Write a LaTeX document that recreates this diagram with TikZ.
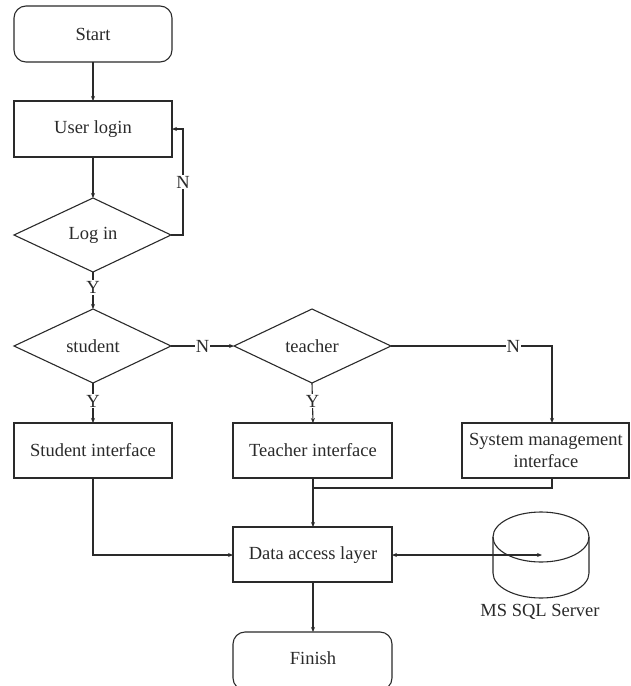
\documentclass[tikz,border=0pt]{standalone}
\usepackage{fontspec}
\setmainfont{Liberation Serif}
\usetikzlibrary{arrows.meta}
\definecolor{ln}{HTML}{2A2A2A}
\begin{document}
\begin{tikzpicture}[x=1pt,y=-1pt,
  every node/.style={font=\fontsize{18.5}{21}\selectfont, text=ln},
  line/.style={draw=ln, line width=1.1pt},
  arr/.style={line, -{Stealth[length=5pt,width=4pt]}},
  dbl/.style={line, {Stealth[length=5pt,width=4pt]}-{Stealth[length=5pt,width=4pt]}},
  lbl/.style={fill=white, inner sep=1pt},
]
\useasboundingbox (0,0) rectangle (630,686);
% nodes drawn as shapes with named coordinates
\draw[line, rounded corners=12pt] (14,6) rectangle (172,62);
\node (start) at (93,34) {Start};
\coordinate (startS) at (93,62);

\draw[line] (14,101) rectangle (172,157);
\node (login) at (93,129) {User login};
\coordinate (loginS) at (93,157);
\coordinate (loginN) at (93,101);
\coordinate (loginE) at (172,129);

\draw[line] (93,198) -- (171,235) -- (93,272) -- (14,235) -- cycle;
\node (logd) at (93,235) {Log in};
\coordinate (logdN) at (93,198);
\coordinate (logdS) at (93,272);
\coordinate (logdE) at (171,235);

\draw[line] (93,309) -- (171,346) -- (93,383) -- (14,346) -- cycle;
\node (stud) at (93,346) {student};
\coordinate (studN) at (93,309);
\coordinate (studS) at (93,383);
\coordinate (studE) at (171,346);

\draw[line] (312,309) -- (391,346) -- (312,383) -- (234,346) -- cycle;
\node (teach) at (312,346) {teacher};
\coordinate (teachN) at (312,309);
\coordinate (teachS) at (312,383);
\coordinate (teachE) at (391,346);
\coordinate (teachW) at (234,346);

\draw[line] (14,423) rectangle (172,478);
\node (si) at (93,450) {Student interface};
\coordinate (siN) at (93,423);
\coordinate (siS) at (93,478);

\draw[line] (233,423) rectangle (392,478);
\node (ti) at (313,450) {Teacher interface};
\coordinate (tiN) at (313,423);
\coordinate (tiS) at (313,478);

\draw[line] (462,423) rectangle (629,478);
\node[align=center, font=\fontsize{18.5}{22}\selectfont] (smi) at (546,450) {System management\\interface};
\coordinate (smiN) at (552,423);
\coordinate (smiS) at (552,478);

\draw[line] (233,527) rectangle (392,582);
\node (dal) at (313,555) {Data access layer};
\coordinate (dalN) at (313,527);
\coordinate (dalS) at (313,582);
\coordinate (dalW) at (233,555);
\coordinate (dalE) at (392,555);

\draw[line, rounded corners=12pt] (233,632) -- (233,690) -- (392,690) -- (392,632) -- cycle;
\node (fin) at (313,658) {Finish};
\coordinate (finN) at (313,632);

% cylinder
\draw[line] (493,537) -- (493,573) arc[start angle=180, end angle=0, x radius=48, y radius=25] -- (589,537);
\draw[line] (541,537) ellipse[x radius=48, y radius=25];
\coordinate (db) at (542,555);
\node (dblbl) at (540,612) {MS SQL Server};

% connectors
\draw[arr] (startS) -- (loginN);
\draw[arr] (loginS) -- (logdN);
\draw[arr] (logdE) -- (183,235) -- node[lbl, midway] {N} (183,129) -- (loginE);
\draw[arr] (logdS) -- node[lbl, pos=0.42] {Y} (studN);
\draw[arr] (studE) -- node[lbl] {N} (teachW);
\draw[arr] (studS) -- node[lbl, pos=0.45] {Y} (siN);
\draw[arr] (teachS) -- node[lbl, pos=0.45] {Y} (tiN);
\draw[arr] (teachE) -- node[lbl, pos=0.76] {N} (552,346) -- (smiN);
\draw[line] (smiS) -- (552,488) -- (313,488);
\draw[arr] (tiS) -- (dalN);
\draw[arr] (siS) -- (93,555) -- (dalW);
\draw[dbl] (dalE) -- (db);
\draw[arr] (dalS) -- (finN);
\end{tikzpicture}
\end{document}
